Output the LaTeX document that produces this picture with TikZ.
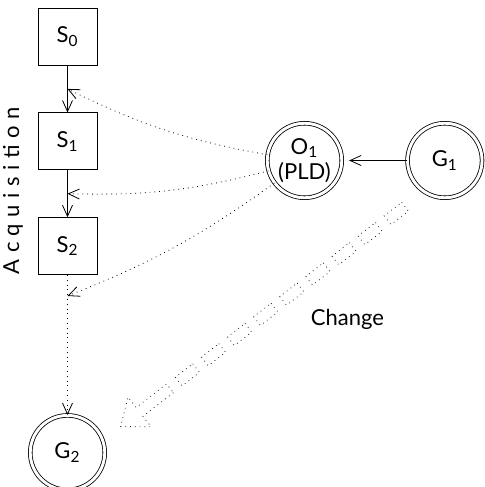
\documentclass[tikz,border=0pt]{standalone}
\usepackage{fontspec}
\setmainfont{Lato}
\usepackage{tikz}
\usetikzlibrary{arrows.meta, positioning, calc}
\tikzstyle{state} = [rectangle, draw, minimum width=29.5pt, minimum height=28.5pt, inner sep=0pt]
\tikzstyle{goal} = [circle, draw, double, double distance=1.45pt, minimum size=37.25pt, inner sep=0pt, align=center]
\tikzstyle{arrow} = [->, >={Straight Barb[length=5.5pt, width=5pt]}]
\tikzstyle{change} = [dotted, black!85]

\begin{document}
\begin{tikzpicture}[x=1pt, y=1pt, node distance=23.5pt, font=\fontsize{11}{12.5}\selectfont]
		\useasboundingbox (-33.75,18.25) rectangle (208.25,-225.25);
		\node (S0) [state] {S\textsubscript{0}};
		\node (S1) [state, below=of S0] {S\textsubscript{1}};
		\node (S2) [state, below=of S1] {S\textsubscript{2}};
		\node (G2) [goal, below=70pt of S2] {G\textsubscript{2}};
		\node (O1) [goal] at (118.5,-62) {O\textsubscript{1}\\(PLD)};
		\node (G1) [goal, right=32.5pt of O1] {G\textsubscript{1}};
		\node (acq) [rotate=90] at (-27.25,-77) {\addfontfeature{LetterSpace=30}Acquisition};
		\node (chg) at (140,-141.5) {Change};
		
		\coordinate (m1) at ($(S0.south)!0.5!(S1.north)$);
		\coordinate (m2) at ($(S1.south)!0.5!(S2.north)$);
		\coordinate (m3) at ($(S2.south)+(0,-10.5)$);
		
		\draw[arrow] (S0) -- (S1);
		\draw[arrow] (S1) -- (S2);
		\draw[arrow, dotted] (S2) -- (G2);
		\draw[arrow, shorten >=3.5pt] (G1) -- (O1);
		
		\draw[arrow, dotted] (O1) to[bend left=8] (m1);
		\draw[arrow, dotted] (O1) to[bend left=8] (m2);
		\draw[arrow, dotted] (O1) to[bend left=7] (m3);
		
		% change arrow
		\begin{scope}[shift={(168.75,-85.1)}, rotate=217.7, change]
			\foreach \i in {0,...,8}
				\draw ({\i*16.5},-2.75) rectangle ++(11,5.5);
			\draw (148.5,2.75) -- (167.75,2.75) -- (167.75,9.4) -- (179.75,0) -- (167.75,-9.4) -- (167.75,-2.75) -- (148.5,-2.75) -- cycle;
		\end{scope}
	\end{tikzpicture}
\end{document}
